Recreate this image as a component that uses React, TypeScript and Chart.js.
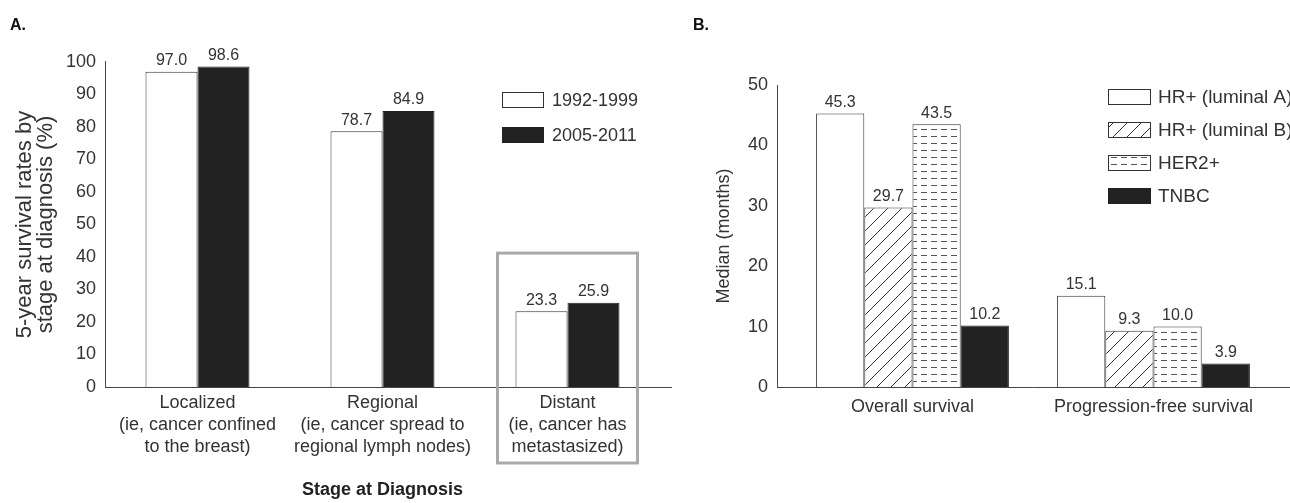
import React, { useEffect, useRef } from 'react';
import { Chart, registerables } from 'chart.js';

Chart.register(...registerables);

// ---------- Panel A data ----------
const stageLabels: string[][] = [
  ['Localized', '(ie, cancer confined', 'to the breast)'],
  ['Regional', '(ie, cancer spread to', 'regional lymph nodes)'],
  ['Distant', '(ie, cancer has', 'metastasized)'],
];
const periodNames = ['1992-1999', '2005-2011'];
const survival1992 = [97.0, 78.7, 23.3];
const survival2005 = [98.6, 84.9, 25.9];
const survivalAxisMax = 100;
const survivalStep = 10;

// ---------- Panel B data ----------
const endpointLabels = ['Overall survival', 'Progression-free survival'];
const subtypeNames = ['HR+ (luminal A)', 'HR+ (luminal B)', 'HER2+', 'TNBC'];
const luminalA = [45.3, 15.1];
const luminalB = [29.7, 9.3];
const her2 = [43.5, 10.0];
const tnbc = [10.2, 3.9];
const medianAxisMax = 50;
const medianStep = 10;

const FONT = "'Liberation Sans', Arial, Helvetica, sans-serif";
const TEXT = '#333';
const AXIS = '#444';
const BLACK = '#222';

function makeHatch(): CanvasPattern | string {
  const c = document.createElement('canvas');
  c.width = 14;
  c.height = 14;
  const g = c.getContext('2d');
  if (!g) return '#888';
  g.fillStyle = '#fff';
  g.fillRect(0, 0, 14, 14);
  g.strokeStyle = '#333';
  g.lineWidth = 1;
  g.beginPath();
  g.moveTo(-1, 15);
  g.lineTo(15, -1);
  g.stroke();
  return g.createPattern(c, 'repeat') || '#888';
}

function makeDashes(): CanvasPattern | string {
  const c = document.createElement('canvas');
  c.width = 10;
  c.height = 7;
  const g = c.getContext('2d');
  if (!g) return '#ccc';
  g.fillStyle = '#fff';
  g.fillRect(0, 0, 10, 7);
  g.fillStyle = '#555';
  g.fillRect(1, 3, 6, 1);
  return g.createPattern(c, 'repeat') || '#ccc';
}

const valueLabels = {
  id: 'valueLabels',
  afterDatasetsDraw(chart: any) {
    const ctx = chart.ctx;
    ctx.save();
    ctx.font = `16px ${FONT}`;
    ctx.fillStyle = TEXT;
    ctx.textAlign = 'center';
    ctx.textBaseline = 'bottom';
    chart.data.datasets.forEach((ds: any, i: number) => {
      const meta = chart.getDatasetMeta(i);
      meta.data.forEach((bar: any, j: number) => {
        ctx.fillText(Number(ds.data[j]).toFixed(1), bar.x, bar.y - 3);
      });
    });
    ctx.restore();
  },
};

function drawLegend(ctx: any, chart: any, x: number, rows: number[], w: number, h: number, textX: number, size: number) {
  chart.data.datasets.forEach((ds: any, i: number) => {
    const cy = rows[i];
    ctx.fillStyle = ds.backgroundColor;
    ctx.fillRect(x, cy - h / 2, w, h);
    ctx.strokeStyle = ds.borderColor;
    ctx.lineWidth = 1;
    ctx.strokeRect(x + 0.5, cy - h / 2 + 0.5, w - 1, h - 1);
    ctx.fillStyle = TEXT;
    ctx.font = `${size}px ${FONT}`;
    ctx.textAlign = 'left';
    ctx.textBaseline = 'middle';
    ctx.fillText(ds.label, textX, cy + 1);
  });
}

const decoA = {
  id: 'decoA',
  afterDraw(chart: any) {
    const { ctx, chartArea: a, scales } = chart;
    ctx.save();
    ctx.strokeStyle = AXIS;
    ctx.lineWidth = 1;
    ctx.beginPath();
    ctx.moveTo(a.left + 0.5, a.top - 1);
    ctx.lineTo(a.left + 0.5, a.bottom);
    ctx.moveTo(a.left, a.bottom + 0.5);
    ctx.lineTo(a.right + 12, a.bottom + 0.5);
    ctx.stroke();

    // highlight box around "Distant"
    const cx = scales.x.getPixelForValue(2);
    const top = scales.y.getPixelForValue(41.2);
    ctx.strokeStyle = '#a9a9a9';
    ctx.lineWidth = 3;
    ctx.strokeRect(cx - 70, top, 140, a.bottom + 76 - top);

    ctx.fillStyle = '#111';
    ctx.font = `bold 16px ${FONT}`;
    ctx.textAlign = 'left';
    ctx.textBaseline = 'alphabetic';
    ctx.fillText('A.', 10, 30);

    drawLegend(ctx, chart, 502, [100, 135], 42, 16, 552, 18);
    ctx.restore();
  },
};

const decoB = {
  id: 'decoB',
  afterDraw(chart: any) {
    const { ctx, chartArea: a, width } = chart;
    ctx.save();
    ctx.strokeStyle = AXIS;
    ctx.lineWidth = 1;
    ctx.beginPath();
    ctx.moveTo(a.left - 15 + 0.5, a.top);
    ctx.lineTo(a.left - 15 + 0.5, a.bottom);
    ctx.moveTo(a.left - 15, a.bottom + 0.5);
    ctx.lineTo(width, a.bottom + 0.5);
    ctx.stroke();

    ctx.fillStyle = '#111';
    ctx.font = `bold 16px ${FONT}`;
    ctx.textAlign = 'left';
    ctx.textBaseline = 'alphabetic';
    ctx.fillText('B.', 3, 30);

    drawLegend(ctx, chart, 418, [97, 130, 163, 196], 43, 16, 468, 19);
    ctx.restore();
  },
};

export default function App() {
  const refA = useRef<HTMLCanvasElement>(null);
  const refB = useRef<HTMLCanvasElement>(null);

  useEffect(() => {
    const hatch = makeHatch();
    const dashes = makeDashes();
    const tickFont = { family: FONT, size: 18, lineHeight: 1.222 };

    const chartA = new Chart(refA.current as HTMLCanvasElement, {
      type: 'bar',
      data: {
        labels: stageLabels as any,
        datasets: [
          {
            label: periodNames[0],
            data: survival1992,
            backgroundColor: '#fff',
            borderColor: '#333',
            borderWidth: 1,
            categoryPercentage: 0.562,
            barPercentage: 1,
          },
          {
            label: periodNames[1],
            data: survival2005,
            backgroundColor: BLACK,
            borderColor: BLACK,
            borderWidth: 1,
            categoryPercentage: 0.562,
            barPercentage: 1,
          },
        ],
      },
      options: {
        responsive: false,
        animation: false,
        layout: { padding: { top: 62, right: 30, left: 0, bottom: 0 } },
        plugins: { legend: { display: false }, tooltip: { enabled: false } },
        scales: {
          x: {
            grid: { display: false, drawTicks: false },
            border: { display: false },
            ticks: { color: TEXT, font: tickFont, padding: 5, autoSkip: false, maxRotation: 0, minRotation: 0 },
            title: {
              display: true,
              text: 'Stage at Diagnosis',
              color: '#222',
              font: { family: FONT, size: 18, weight: 'bold', lineHeight: 1.222 },
              padding: { top: 0, bottom: 2 },
            },
            afterFit: (s: any) => {
              s.height = 116;
            },
          },
          y: {
            min: 0,
            max: survivalAxisMax,
            grid: { display: false, drawTicks: false },
            border: { display: false },
            ticks: { stepSize: survivalStep, color: TEXT, font: tickFont, padding: 9 },
            title: {
              display: true,
              text: ['5-year survival rates by', 'stage at diagnosis (%)'],
              color: TEXT,
              font: { family: FONT, size: 22, lineHeight: 0.955 },
              padding: { top: 14, bottom: 0 },
            },
            afterFit: (s: any) => {
              s.width = 105;
            },
          },
        },
      } as any,
      plugins: [valueLabels, decoA],
    });

    const chartB = new Chart(refB.current as HTMLCanvasElement, {
      type: 'bar',
      data: {
        labels: endpointLabels,
        datasets: [
          { label: subtypeNames[0], data: luminalA, backgroundColor: '#fff', borderColor: '#333' },
          { label: subtypeNames[1], data: luminalB, backgroundColor: hatch as any, borderColor: '#333' },
          { label: subtypeNames[2], data: her2, backgroundColor: dashes as any, borderColor: '#333' },
          { label: subtypeNames[3], data: tnbc, backgroundColor: BLACK, borderColor: BLACK },
        ].map((d) => ({ ...d, borderWidth: 1, categoryPercentage: 0.8, barPercentage: 1 })),
      },
      options: {
        responsive: false,
        animation: false,
        layout: { padding: { top: 85, right: 16, left: 0, bottom: 0 } },
        plugins: { legend: { display: false }, tooltip: { enabled: false } },
        scales: {
          x: {
            grid: { display: false, drawTicks: false },
            border: { display: false },
            ticks: { color: TEXT, font: tickFont, padding: 9, autoSkip: false, maxRotation: 0, minRotation: 0 },
            afterFit: (s: any) => {
              s.height = 116;
            },
          },
          y: {
            min: 0,
            max: medianAxisMax,
            grid: { display: false, drawTicks: false },
            border: { display: false },
            ticks: { stepSize: medianStep, color: TEXT, font: tickFont, padding: 24 },
            title: {
              display: true,
              text: 'Median (months)',
              color: TEXT,
              font: { family: FONT, size: 18, lineHeight: 1.222 },
              padding: { top: 23, bottom: 0 },
            },
            afterFit: (s: any) => {
              s.width = 102;
            },
          },
        },
      } as any,
      plugins: [valueLabels, decoB],
    });

    return () => {
      chartA.destroy();
      chartB.destroy();
    };
  }, []);

  return (
    <div style={{ position: 'fixed', left: 0, top: 0, width: 1290, height: 503, background: '#fff', overflow: 'hidden' }}>
      <canvas ref={refA} width={690} height={503} style={{ position: 'absolute', left: 0, top: 0, display: 'block' }} />
      <canvas ref={refB} width={600} height={503} style={{ position: 'absolute', left: 690, top: 0, display: 'block' }} />
    </div>
  );
}
